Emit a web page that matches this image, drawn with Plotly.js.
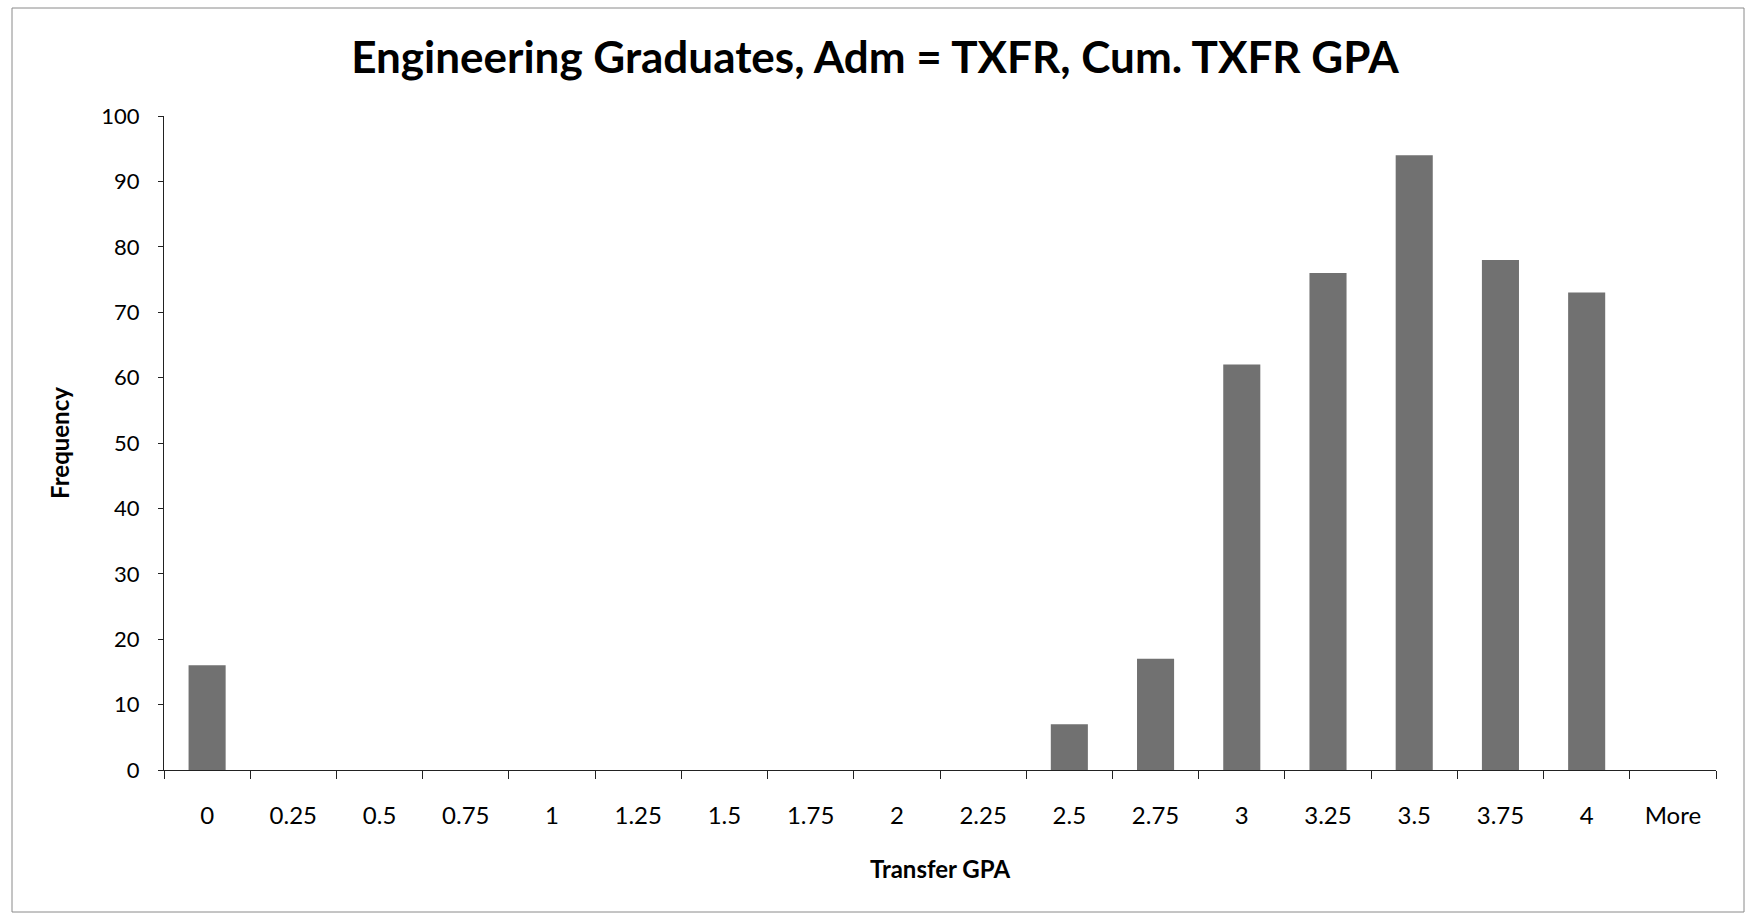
<!DOCTYPE html>
<html>
<head>
<meta charset="utf-8">
<script src="https://cdn.plot.ly/plotly-3.0.1.min.js"></script>
<style>
  html, body { margin: 0; padding: 0; background: #fff; }
  #chart { width: 1750px; height: 917px; }
</style>
</head>
<body>
<div id="chart"></div>
<script>
// Data
const categories = ["0", "0.25", "0.5", "0.75", "1", "1.25", "1.5", "1.75", "2", "2.25",
                    "2.5", "2.75", "3", "3.25", "3.5", "3.75", "4", "More"];
const frequency  = [16, 0, 0, 0, 0, 0, 0, 0, 0, 0, 7, 17, 62, 76, 94, 78, 73, 0];
const titleText  = "Engineering Graduates, Adm = TXFR, Cum. TXFR GPA";
const xTitleText = "Transfer GPA";
const yTitleText = "Frequency";

const W = 1750, H = 917;
const M = { l: 164, r: 34, t: 116, b: 147 };
const pw = W - M.l - M.r, ph = H - M.t - M.b;
const px = v => (v - M.l) / pw;
const py = v => (H - M.b - v) / ph;

const FONT = "Lato, 'Open Sans', sans-serif";

const trace = {
  type: "bar",
  x: categories,
  y: frequency,
  marker: { color: "#717171", line: { color: "#2e2e2e", width: 0 } },
  hoverinfo: "x+y"
};

const layout = {
  width: W, height: H,
  margin: M,
  paper_bgcolor: "#ffffff",
  plot_bgcolor: "#ffffff",
  showlegend: false,
  bargap: 0.57,
  font: { family: FONT, color: "#000" },
  title: {
    text: "<b>" + titleText + "</b>",
    font: { family: FONT, size: 44, color: "#000" },
    x: 0.5, xref: "container", xanchor: "center",
    y: 1 - 58 / H, yref: "container", yanchor: "middle"
  },
  xaxis: {
    type: "category",
    showgrid: false,
    zeroline: false,
    showline: true, linecolor: "#222", linewidth: 1,
    ticks: "outside", ticklen: 8, tickcolor: "#222", tickwidth: 1,
    tickson: "boundaries",
    ticklabelstandoff: 24,
    tickfont: { family: FONT, size: 24, color: "#000" },
    title: { text: "<b>" + xTitleText + "</b>", font: { family: FONT, size: 24, color: "#000" }, standoff: 33 }
  },
  yaxis: {
    range: [0, 100],
    dtick: 10,
    showgrid: false,
    zeroline: false,
    showline: true, linecolor: "#222", linewidth: 1,
    ticks: "outside", ticklen: 5, tickcolor: "#222", tickwidth: 1,
    ticklabelstandoff: 14,
    tickfont: { family: FONT, size: 22, color: "#000" },
    title: { text: "<b>" + yTitleText + "</b>", font: { family: FONT, size: 24, color: "#000" }, standoff: 24 }
  },
  shapes: [{
    type: "rect", xref: "paper", yref: "paper",
    x0: px(12), x1: px(1744), y0: py(912), y1: py(8),
    line: { color: "#8a8a8a", width: 1 },
    fillcolor: "rgba(0,0,0,0)", layer: "below"
  }]
};

Plotly.newPlot("chart", [trace], layout, { displayModeBar: false, staticPlot: true });
</script>
</body>
</html>
